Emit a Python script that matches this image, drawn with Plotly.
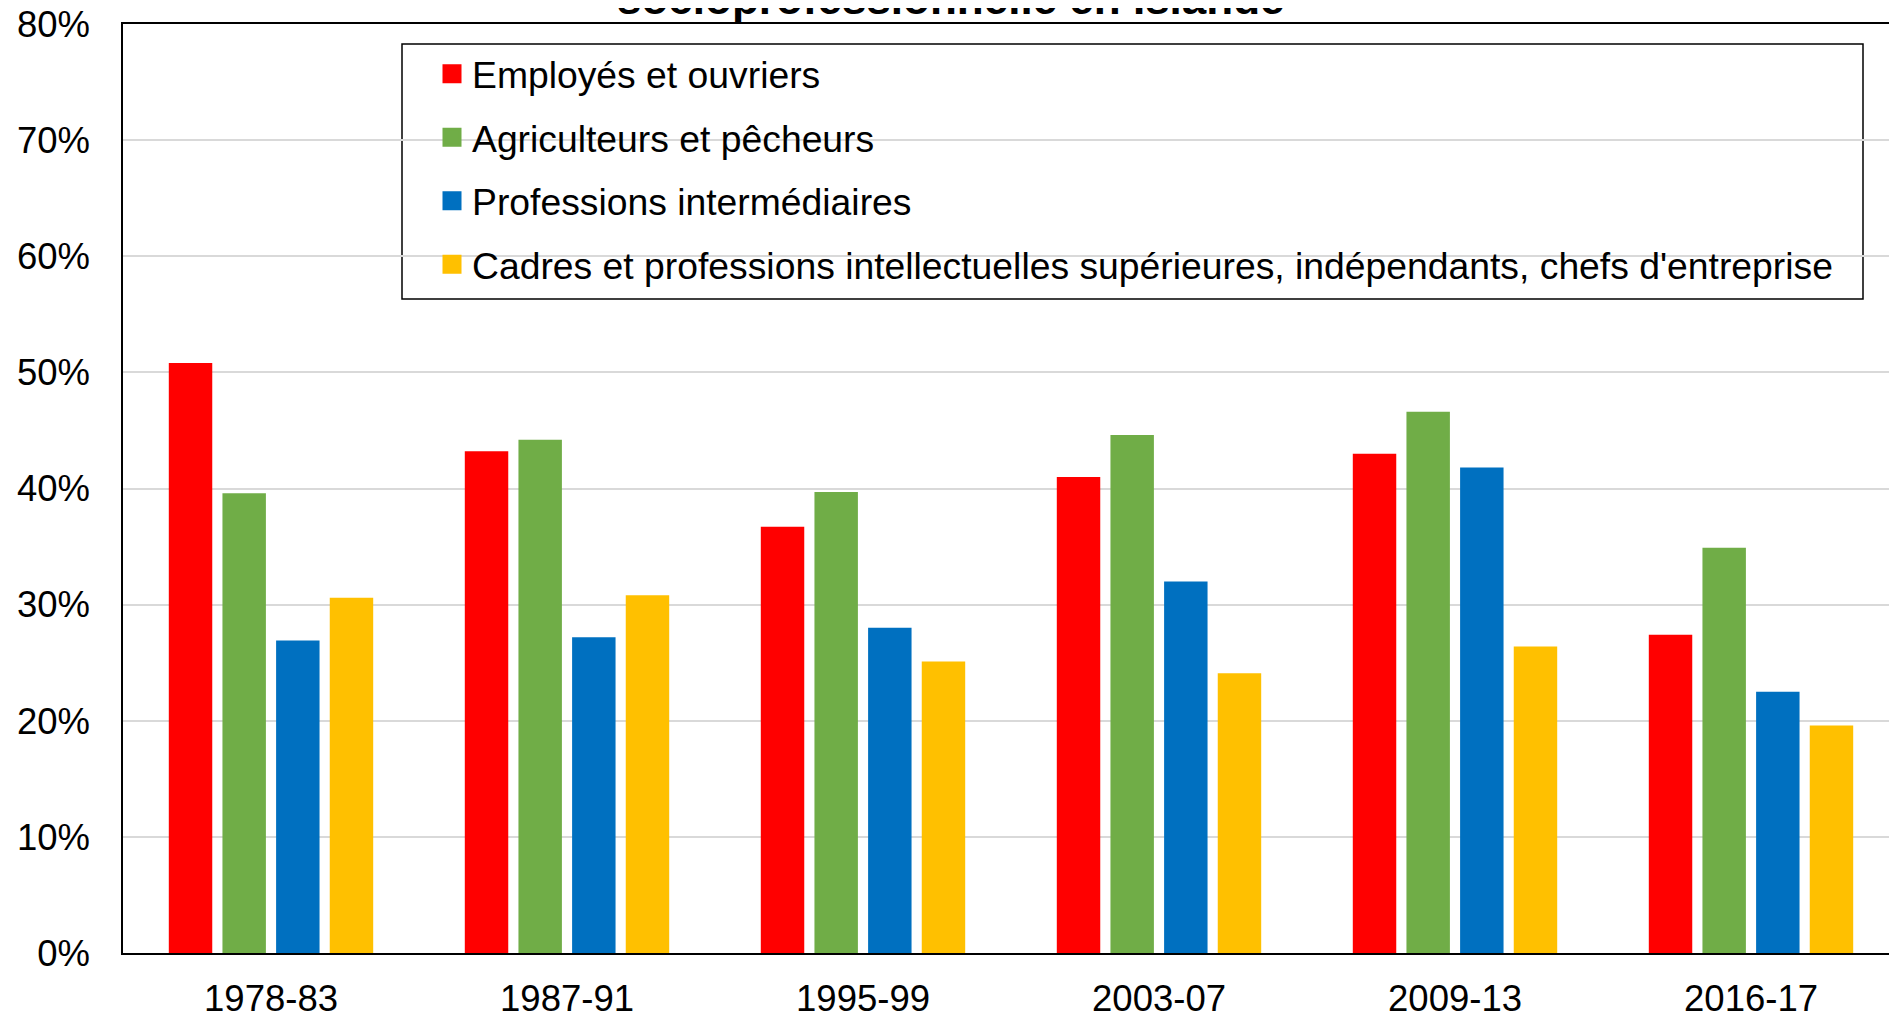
import plotly.graph_objects as go

periods = ["1978-83", "1987-91", "1995-99", "2003-07", "2009-13", "2016-17"]
employes = [50.8, 43.2, 36.7, 41.0, 43.0, 27.4]
agriculteurs = [39.6, 44.2, 39.7, 44.6, 46.6, 34.9]
intermediaires = [26.9, 27.2, 28.0, 32.0, 41.8, 22.5]
cadres = [30.6, 30.8, 25.1, 24.1, 26.4, 19.6]

names = [
    "Employés et ouvriers",
    "Agriculteurs et pêcheurs",
    "Professions intermédiaires",
    "Cadres et professions intellectuelles supérieures, indépendants, chefs d'entreprise",
]
colors = ["#FF0000", "#70AD47", "#0070C0", "#FFC000"]
series = [employes, agriculteurs, intermediaires, cadres]

FONT = "Liberation Sans, Arial, sans-serif"

W, H = 1897, 1016
OFF = 8  # page body margin
L, R, T, B = 115, 6, 16, 71
pw, ph = W - L - R, H - T - B


def px_x(x):
    # page pixel -> paper fraction
    return (x - OFF - L) / pw


def px_y(y):
    return (H - B - (y - OFF)) / ph


fig = go.Figure()
for name, color, vals in zip(names, colors, series):
    fig.add_trace(go.Bar(
        x=periods, y=[v / 100 for v in vals], name=name,
        marker=dict(color=color, line=dict(width=0)),
        showlegend=False, legendgroup=name,
    ))
    # square legend marker
    fig.add_trace(go.Scatter(
        x=[periods[0]], y=[None], mode="markers", name=name, legendgroup=name,
        marker=dict(symbol="square", size=16, color=color,
                    line=dict(color=color, width=3)),
    ))

# legend frame
fig.add_shape(type="rect", xref="paper", yref="paper",
              x0=px_x(402), x1=px_x(1863), y0=px_y(299), y1=px_y(44),
              line=dict(color="black", width=1.5), fillcolor="white", layer="below")

# title, mostly cut off at the top of the picture
fig.add_annotation(
    text="<b>socioprofessionnelle en Islande</b>",
    xref="paper", yref="paper", x=px_x(951), y=px_y(25),
    xanchor="center", yanchor="bottom", showarrow=False,
    font=dict(family=FONT, size=44, color="black"),
)

fig.update_layout(
    width=W, height=H,
    margin=dict(l=L, r=R, t=T, b=B, pad=0),
    paper_bgcolor="white", plot_bgcolor="rgba(0,0,0,0)",
    font=dict(family=FONT, size=36.5, color="black"),
    barmode="group", bargap=0.275, bargroupgap=0.19,
    showlegend=True,
    legend=dict(
        x=px_x(432), y=px_y(43), xanchor="left", yanchor="top",
        bgcolor="rgba(0,0,0,0)", borderwidth=0,
        font=dict(family=FONT, size=37.3, color="black"),
        traceorder="grouped", tracegroupgap=12,
    ),
)
fig.update_xaxes(
    type="category", automargin=False,
    showline=True, linecolor="black", linewidth=1.5, mirror=True,
    ticks="", ticklabelstandoff=12, range=[-0.5, 5.5], showgrid=False,
)
fig.update_yaxes(
    range=[0, 0.8], dtick=0.1, tickformat=".0%", automargin=False,
    showline=True, linecolor="black", linewidth=1.5,
    showgrid=True, gridcolor="#D9D9D9", gridwidth=1.5,
    ticks="", ticklabelstandoff=24, zeroline=False,
    ticklabeloverflow="allow",
)

fig.write_html("out.html")
